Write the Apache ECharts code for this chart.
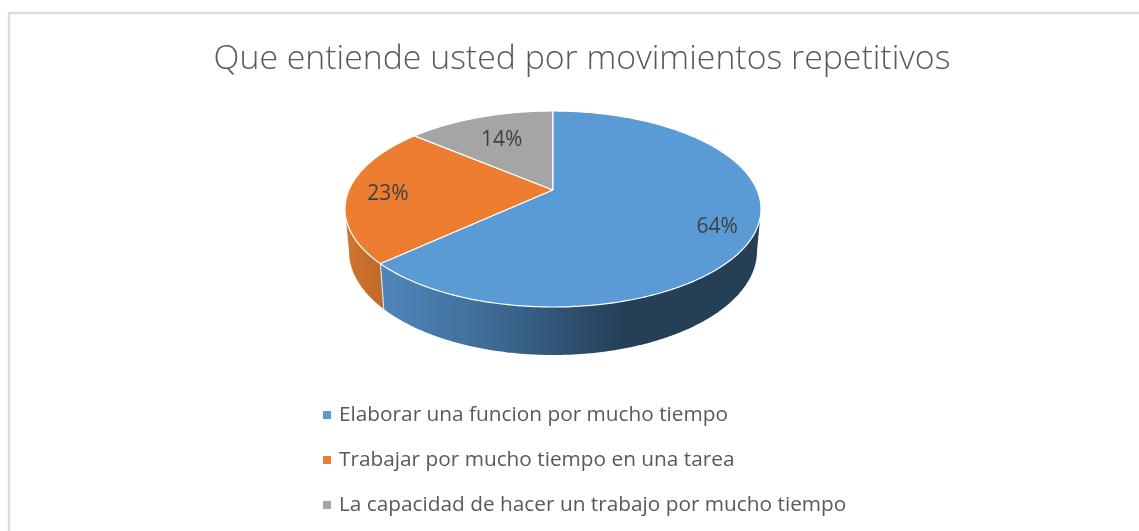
<!DOCTYPE html>
<html><head><meta charset="utf-8">
<style>html,body{margin:0;padding:0;background:#fff}#c{width:1139px;height:531px}</style>
<script src="https://cdn.jsdelivr.net/npm/echarts@6/dist/echarts.min.js"></script>
</head><body><div id="c"></div>
<script>
const titleText = 'Que entiende usted por movimientos repetitivos';
const categories = ['Elaborar una funcion por mucho tiempo','Trabajar por mucho tiempo en una tarea','La capacidad de hacer un trabajo por mucho tiempo'];
const values = [64, 23, 14];
const percentLabels = ['64%', '23%', '14%'];
const colors = ['#5B9BD5', '#ED7D31', '#A5A5A5'];
const labelFractions = [0.81, 0.81, 0.72];

const FONT = '"Open Sans", sans-serif';
const apex = {x: 553, y: 190};
const top_ = {cx: 553, cy: 209, a: 208, b: 98};
const bot = {cx: 553, cy: 251, a: 204, b: 104};
const SKEW = 10.7 * Math.PI / 180;      // perspective shift of the disc's centre
const total = values.reduce((s, v) => s + v, 0);

function warp(t) { return t - SKEW * Math.sin(t); }
function rim(e, t) { return [e.cx + e.a * Math.sin(t), e.cy - e.b * Math.cos(t)]; }
function startOf(i) { let s = 0; for (let k = 0; k < i; k++) s += values[k]; return s / total * 2 * Math.PI; }
const wallFill = [
  {type:'linear',global:true,x:380,y:0,x2:625,y2:0,colorStops:[{offset:0,color:'#4f86ba'},{offset:0.45,color:'#3e6c96'},{offset:0.75,color:'#2f5273'},{offset:1,color:'#243f56'}]},
  {type:'linear',global:true,x:347,y:0,x2:384,y2:0,colorStops:[{offset:0,color:'#cf7530'},{offset:1,color:'#bf6727'}]},
  '#7c7c7c'
];

function makeRender(i) {
  return function (params, api) {
    const v = api.value(0);
    const a0 = startOf(i), a1 = a0 + v / total * 2 * Math.PI;
    const N = 240, topPts = [[apex.x, apex.y]], children = [];
    for (let k = 0; k <= N; k++) topPts.push(rim(top_, warp(a0 + (a1 - a0) * k / N)));
    const w0 = Math.max(warp(a0), Math.PI / 2), w1 = Math.min(warp(a1), 1.5 * Math.PI);
    if (w1 > w0) {
      const up = [], down = [];
      for (let k = 0; k <= N; k++) {
        const t = w0 + (w1 - w0) * k / N;
        up.push(rim(top_, t)); down.unshift(rim(bot, t));
      }
      children.push({type:'polygon', shape:{points: up.concat(down)}, style:{fill: wallFill[i]}});
      if (warp(a1) < 1.5 * Math.PI) {
        children.push({type:'line', shape:{x1:rim(top_,w1)[0],y1:rim(top_,w1)[1],x2:rim(bot,w1)[0],y2:rim(bot,w1)[1]}, style:{stroke:'#d9dfe6',lineWidth:1.2}});
      }
    }
    children.push({type:'polygon', shape:{points: topPts}, style:{fill: colors[i], stroke:'#ffffff', lineWidth:1.2, lineJoin:'round'}});
    const mid = warp((a0 + a1) / 2), p = rim(top_, mid), f = labelFractions[i];
    children.push({type:'text', z2:10, style:{
      x: apex.x + (p[0] - apex.x) * f + 1, y: apex.y + (p[1] - apex.y) * f + 2,
      text: percentLabels[i], fill:'#404040', font:'21px ' + FONT, align:'center', verticalAlign:'middle'}});
    return {type:'group', children};
  };
}

const chart = echarts.init(document.getElementById('c'), null, {renderer:'canvas'});
chart.setOption({
  animation:false,
  backgroundColor:'#fff',
  title:{text:titleText,left:577,top:37,textAlign:'center',
    textStyle:{fontFamily:FONT,fontSize:33.8,fontWeight:300,color:'#595959'}},
  legend:{orient:'vertical',left:318,top:398,icon:'rect',itemWidth:8,itemHeight:8,itemGap:21,
    selectedMode:false,data:categories,
    textStyle:{fontFamily:FONT,fontSize:20.8,color:'#595959',padding:[0,0,0,3],height:24,lineHeight:24}},
  graphic:[{type:'polyline',silent:true,shape:{points:[[9,531],[9,13],[1139,13]]},style:{stroke:'#dcdcdc',fill:null,lineWidth:2.4}}],
  series: categories.map((name,i)=>({
    type:'custom',name,coordinateSystem:'none',itemStyle:{color:colors[i]},
    renderItem:makeRender(i),data:[[values[i]]],silent:true,z:2+(i===0?1:0)
  }))
});
</script></body></html>
